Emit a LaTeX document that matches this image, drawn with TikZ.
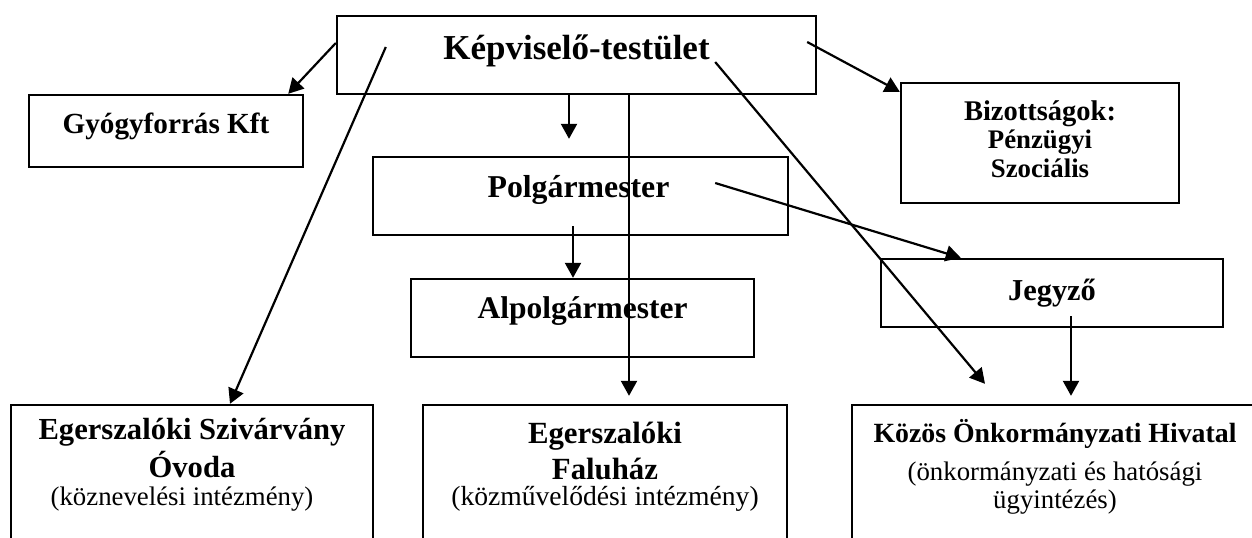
\documentclass[tikz,border=0pt]{standalone}
\usepackage{fontspec}
\setmainfont{Liberation Serif}
\usetikzlibrary{positioning, calc, arrows.meta}

\begin{document}
\begin{tikzpicture}
    [x=0.5pt, y=-0.5pt,
    >={Triangle[length=7.5pt, width=8pt]},
    squarednode/.style={rectangle, draw=black, line width=1.2pt, inner sep=0pt, align=center},
    line/.style={line width=1.1pt}]

    \useasboundingbox (0,0) rectangle (1252,537);
    \clip (0,0) rectangle (1252,537);

    %Nodes
    \node[squarednode, minimum width=239.5pt, text height=21.5pt, text depth=17.5pt,
        font=\bfseries\fontsize{17.5}{21}\selectfont](KT) at (576.5,55){Képviselő-testület};
    \node[squarednode, minimum width=137pt, text height=19pt, text depth=17pt,
        font=\bfseries\fontsize{14.6}{17}\selectfont](GY) at (166,131){Gyógyforrás Kft};
    \node[squarednode, minimum width=139pt, text height=47pt, text depth=13pt,
        font=\bfseries\fontsize{14.25}{14.5}\selectfont](BIZ) at (1040,143)
        {Bizottságok:\\[-0.5pt]{\fontsize{13.4}{14}\selectfont Pénzügyi}\\{\fontsize{13.4}{14}\selectfont Szociális}};
    \node[squarednode, minimum width=207.5pt, text height=20pt, text depth=19pt,
        font=\bfseries\fontsize{15.9}{19}\selectfont](POL) at (580.5,196){Polgármester\hspace{2pt}\null};
    \node[squarednode, minimum width=171.5pt, text height=19.5pt, text depth=19.5pt,
        font=\bfseries\fontsize{15.75}{19}\selectfont](ALP) at (582.5,318){Alpolgármester};
    \node[squarednode, minimum width=171pt, text height=20.5pt, text depth=13.5pt,
        font=\bfseries\fontsize{15.2}{18}\selectfont](JEGY) at (1052,293){Jegyző};

    \node[squarednode, minimum width=181pt, text height=50pt, text depth=47.5pt,
        font=\bfseries\fontsize{15.3}{19}\selectfont](OVODA) at (192,502.5)
        {Egerszalóki Szivárvány\\Óvoda\\[-5pt]{\mdseries\fontsize{13.4}{16}\selectfont (köznevelési intézmény)\hspace{10pt}\null}};
    \node[squarednode, minimum width=182pt, text height=50pt, text depth=47.5pt,
        font=\bfseries\fontsize{15.4}{18}\selectfont](FALU) at (605,502.5)
        {Egerszalóki\\Faluház\\[-5pt]{\mdseries\fontsize{13.8}{16}\selectfont (közművelődési intézmény)}};
    \node[squarednode, minimum width=203pt, text height=51.5pt, text depth=46pt,
        font=\bfseries\fontsize{13.9}{19}\selectfont](KOZOS) at (1055,502.5)
        {Közös Önkormányzati Hivatal\\{\mdseries\fontsize{13.4}{16}\selectfont (önkormányzati és hatósági}\\[-5pt]{\mdseries\fontsize{13.4}{16}\selectfont ügyintézés)}};

    %Lines
    \draw[line, ->]([yshift=6pt]KT.west)--([xshift=-8pt]GY.north east);
    \draw[line, ->]([xshift=25pt, yshift=4pt]KT.west)--([xshift=19pt]OVODA.north);
    \draw[line, ->]([xshift=-3.75pt]KT.south)--([xshift=-5.75pt, yshift=8.5pt]POL.north);
    \draw[line, ->]([xshift=26.25pt]KT.south)--([xshift=12pt, yshift=4pt]FALU.north);
    \draw[line, ->]([xshift=-51pt, yshift=-3.5pt]KT.east)--([xshift=-35pt, yshift=10pt]KOZOS.north);
    \draw[line, ->]([xshift=-5pt, yshift=6.5pt]KT.east)--([yshift=-5pt]BIZ.north west);

    \draw[line, ->]([xshift=-37pt, yshift=6.5pt]POL.east)--([xshift=40.5pt]JEGY.north west);
    \draw[line, ->]([xshift=-3.75pt, yshift=5pt]POL.south)--([xshift=-4.75pt]ALP.north);

    \draw[line, ->]([xshift=9.5pt, yshift=6pt]JEGY.south)--([xshift=8pt, yshift=4pt]KOZOS.north);
\end{tikzpicture}
\end{document}
